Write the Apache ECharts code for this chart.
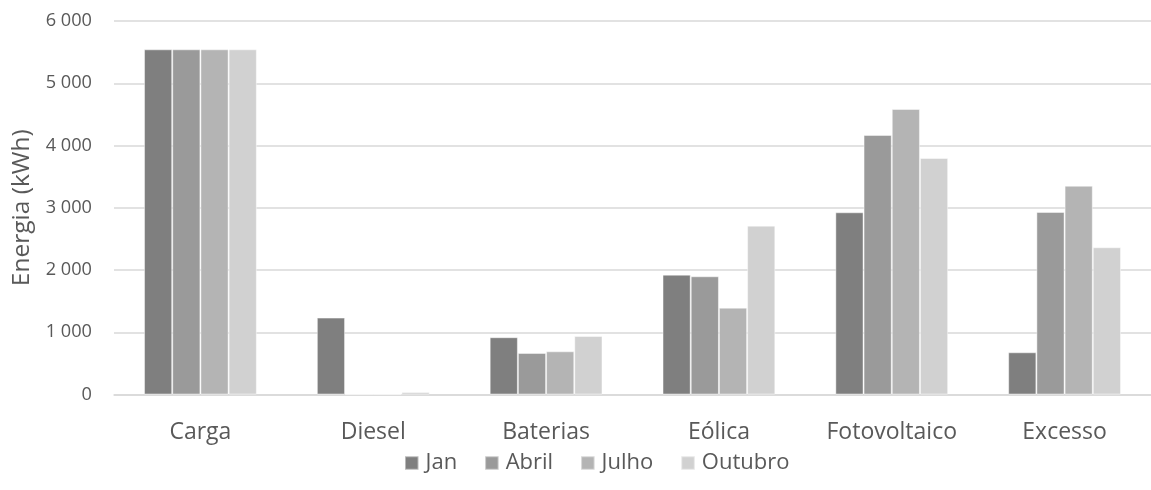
<!DOCTYPE html>
<html>
<head>
<meta charset="utf-8">
<script src="https://cdn.jsdelivr.net/npm/echarts@6/dist/echarts.min.js"></script>
<style>
  html, body { margin: 0; padding: 0; background: #ffffff; }
  #chart { width: 1151px; height: 490px; }
</style>
</head>
<body>
<div id="chart"></div>
<script>
// Energy balance per source, for four representative months
const categories = ['Carga', 'Diesel', 'Baterias', 'Eólica', 'Fotovoltaico', 'Excesso'];
const janValues = [5545, 1235, 920, 1925, 2927, 678];
const abrilValues = [5545, 0, 667, 1899, 4169, 2932];
const julhoValues = [5545, 0, 694, 1395, 4586, 3354];
const outubroValues = [5545, 40, 940, 2712, 3799, 2365];
const seriesNames = ['Jan', 'Abril', 'Julho', 'Outubro'];
const seriesColors = ['#7f7f7f', '#9a9a9a', '#b4b4b4', '#d1d1d1'];
const yTicks = { min: 0, max: 6000, interval: 1000 };

const fontFamily = '"Open Sans", "Liberation Sans", sans-serif';
const textColor = '#595959';

// thousands separated by a space: 6000 -> "6 000"
function fmt(v) {
  return String(v).replace(/\B(?=(\d{3})+(?!\d))/g, ' ');
}

const seriesData = [janValues, abrilValues, julhoValues, outubroValues];

const chart = echarts.init(document.getElementById('chart'), null, { renderer: 'canvas' });
chart.setOption({
  animation: false,
  backgroundColor: '#ffffff',
  textStyle: { fontFamily: fontFamily, color: textColor },
  grid: { left: 114, top: 21, width: 1050, height: 373.5, containLabel: false },
  legend: {
    data: seriesNames,
    left: 404,
    top: 452,
    padding: 0,
    itemWidth: 13.5,
    itemHeight: 13.5,
    itemGap: 27,
    icon: 'rect',
    textStyle: { fontFamily: fontFamily, color: textColor, fontSize: 22, padding: [0, 0, 0, 2] }
  },
  xAxis: {
    type: 'category',
    data: categories,
    axisLine: { show: true, lineStyle: { color: '#d9d9d9', width: 1.5 } },
    axisTick: { show: false },
    axisLabel: { color: textColor, fontFamily: fontFamily, fontSize: 23, margin: 26 },
    splitLine: { show: false }
  },
  yAxis: {
    type: 'value',
    min: yTicks.min,
    max: yTicks.max,
    interval: yTicks.interval,
    name: 'Energia (kWh)',
    nameLocation: 'middle',
    nameGap: 78,
    nameRotate: 90,
    nameTextStyle: { color: textColor, fontFamily: fontFamily, fontSize: 24.5 },
    axisLine: { show: false },
    axisTick: { show: false },
    axisLabel: { color: textColor, fontFamily: fontFamily, fontSize: 18.2, margin: 22, formatter: fmt },
    splitLine: { lineStyle: { color: '#d9d9d9', width: 1.5 } }
  },
  series: seriesNames.map((name, i) => ({
    name: name,
    type: 'bar',
    data: seriesData[i],
    barWidth: 28.2,
    barGap: '0%',
    itemStyle: {
      color: seriesColors[i],
      borderColor: 'rgba(255,255,255,0.45)',
      borderWidth: 1
    }
  }))
});
</script>
</body>
</html>
